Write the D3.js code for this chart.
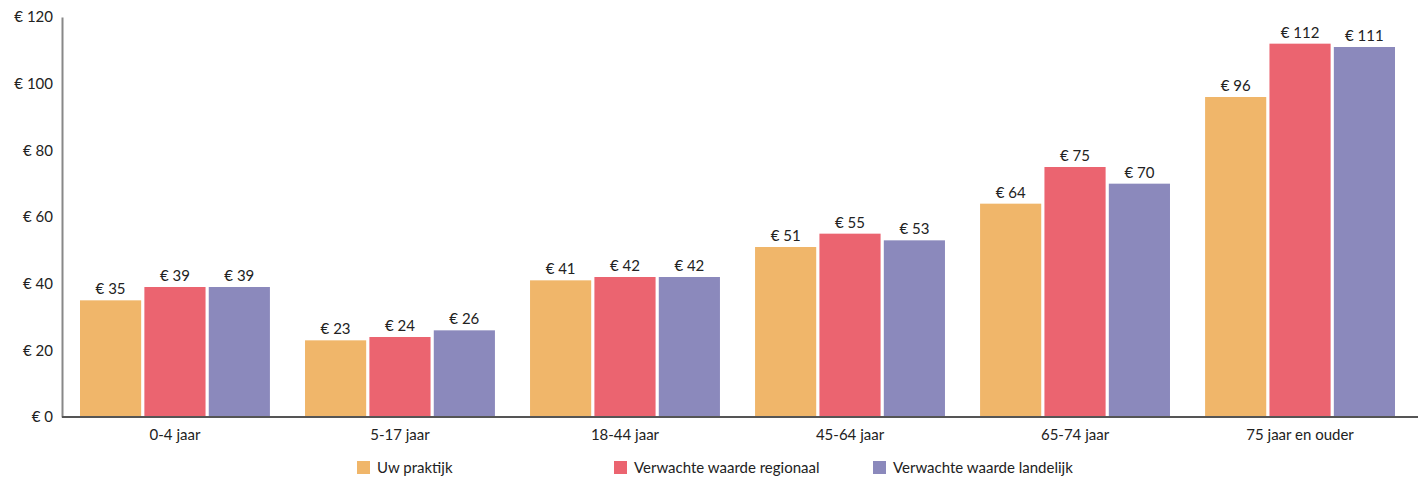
<!DOCTYPE html>
<html>
<head>
<meta charset="utf-8">
<script src="https://cdn.jsdelivr.net/npm/d3@7"></script>
<style>
  body { margin: 0; background: #fff; }
  text { font-family: Lato, "Noto Sans", sans-serif; fill: #222; }
</style>
</head>
<body>
<script>
const categories = ["0-4 jaar", "5-17 jaar", "18-44 jaar", "45-64 jaar", "65-74 jaar", "75 jaar en ouder"];
const seriesNames = ["Uw praktijk", "Verwachte waarde regionaal", "Verwachte waarde landelijk"];
const uwPraktijk = [35, 23, 41, 51, 64, 96];
const regionaal = [39, 24, 42, 55, 75, 112];
const landelijk = [39, 26, 42, 53, 70, 111];
const yTicks = [0, 20, 40, 60, 80, 100, 120];
const colors = ["#f0b66a", "#eb6470", "#8b89bc"];

const margin = { top: 17, bottom: 63, left: 62, right: 0 };
const width = 1418 - margin.left - margin.right;
const height = 480 - margin.top - margin.bottom;

const svg = d3.select('body').append('svg')
    .attr('width', 1418)
    .attr('height', 480);

const g = svg.append('g')
    .attr('transform', `translate(${margin.left},${margin.top})`);

const series = [uwPraktijk, regionaal, landelijk];
const data = categories.map((c, i) => ({
    cat: c,
    values: series.map((s, j) => ({ key: seriesNames[j], value: s[i] }))
}));

// the groups do not use the full axis width
const x0 = d3.scaleBand().domain(categories).range([0, 1351]).paddingInner(0.156).paddingOuter(0.08);
const x1 = d3.scaleBand().domain(seriesNames).range([0, x0.bandwidth()]).paddingInner(0.05);
const y = d3.scaleLinear().domain([0, 120]).range([height, 0]);
const color = d3.scaleOrdinal().domain(seriesNames).range(colors);

// y axis
const yaxis = d3.axisLeft(y).tickValues(yTicks).tickSize(0).tickPadding(9).tickFormat(d => `€ ${d}`);
const g_yaxis = g.append('g').call(yaxis);
g_yaxis.select('.domain').attr('stroke', '#888').attr('stroke-width', 2);
g_yaxis.selectAll('text').attr('font-size', 15);

// bars
const groups = g.selectAll('.group')
    .data(data)
    .join('g')
    .attr('class', 'group')
    .attr('transform', d => `translate(${x0(d.cat)},0)`);

groups.selectAll('rect')
    .data(d => d.values)
    .join('rect')
    .attr('x', d => x1(d.key))
    .attr('y', d => y(d.value))
    .attr('width', x1.bandwidth())
    .attr('height', d => height - y(d.value))
    .attr('fill', d => color(d.key));

groups.selectAll('.val')
    .data(d => d.values)
    .join('text')
    .attr('class', 'val')
    .attr('x', d => x1(d.key) + x1.bandwidth() / 2)
    .attr('y', d => y(d.value) - 6)
    .attr('text-anchor', 'middle')
    .attr('font-size', 15)
    .text(d => `€ ${d.value}`);

// x axis
const xaxis = d3.axisBottom(x0).tickSize(0).tickPadding(12);
const g_xaxis = g.append('g').attr('transform', `translate(0,${height})`).call(xaxis);
g_xaxis.select('.domain').remove();
g_xaxis.append('line')
    .attr('x1', 0).attr('x2', width)
    .attr('stroke', '#555').attr('stroke-width', 2);
g_xaxis.selectAll('text').attr('font-size', 15);

// legend
const legendX = [357, 614, 873];
const legend = svg.append('g').selectAll('g')
    .data(seriesNames)
    .join('g')
    .attr('transform', (d, i) => `translate(${legendX[i]},461)`);
legend.append('rect').attr('width', 13).attr('height', 13).attr('fill', d => color(d));
legend.append('text').attr('x', 20).attr('y', 12).attr('font-size', 15).text(d => d);
</script>
</body>
</html>
